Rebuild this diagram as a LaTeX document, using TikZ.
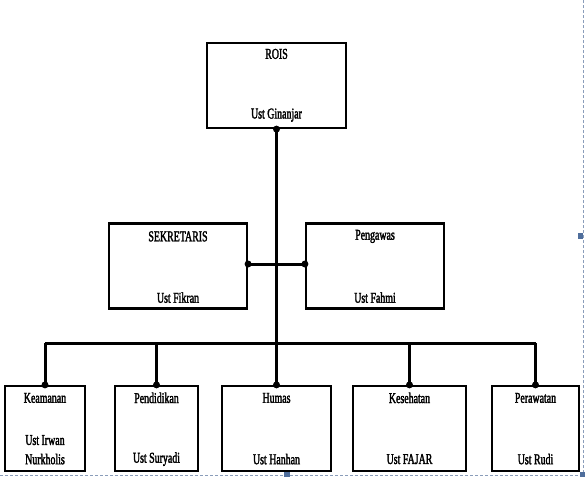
\documentclass[tikz,border=0pt]{standalone}
\usepackage{fontspec}
\setmainfont{Liberation Serif}[FakeStretch=0.66, FakeBold=2]
\usepackage{tikz}

\definecolor{framegray}{HTML}{8A9DBA}
\definecolor{handleblue}{HTML}{4F6E9C}

\tikzset{
    box/.style={draw, line width=2.2pt, minimum height=85pt, inner sep=0pt},
    title/.style={font=\fontsize{15}{16}\selectfont, inner sep=0pt},
    link/.style={line width=3pt},
    dot/.style={fill=black}
}

\begin{document}
\begin{tikzpicture}[x=1pt, y=-1pt]
    \useasboundingbox (0,0) rectangle (585,479);

    % kotak-kotak
    \node[box, minimum width=139pt] (rois) at (276.5,85.5) {};
    \node[box, minimum width=138pt] (sek) at (178,266) {};
    \node[box, minimum width=138pt] (peng) at (375,266) {};
    \node[box, minimum width=80pt] (keam) at (45,428.5) {};
    \node[box, minimum width=83pt] (pend) at (156.5,428.5) {};
    \node[box, minimum width=109pt] (humas) at (276.5,428.5) {};
    \node[box, minimum width=113pt] (kes) at (409.5,428.5) {};
    \node[box, minimum width=87pt] (peraw) at (535.5,428.5) {};

    % tulisan
    \node[title] (roist) at ([yshift=-12pt]rois.north) {ROIS};
    \node[title] (roisn) at ([yshift=14pt]rois.south) {Ust Ginanjar};
    \node[title] (sekt) at ([yshift=-14pt]sek.north) {SEKRETARIS};
    \node[title] (sekn) at ([yshift=12pt]sek.south) {Ust Fikran};
    \node[title] (pengt) at ([yshift=-14pt]peng.north) {Pengawas};
    \node[title] (pengn) at ([yshift=12pt]peng.south) {Ust Fahmi};
    \node[title] (keamt) at ([yshift=-13pt]keam.north) {Keamanan};
    \node[title] (keamm) at ([yshift=32pt]keam.south) {Ust Irwan};
    \node[title] (keamn) at ([yshift=13pt]keam.south) {Nurkholis};
    \node[title] (pendt) at ([yshift=-13pt]pend.north) {Pendidikan};
    \node[title] (pendn) at ([yshift=13pt]pend.south) {Ust Suryadi};
    \node[title] (humast) at ([yshift=-13pt]humas.north) {Humas};
    \node[title] (humasn) at ([yshift=13pt]humas.south) {Ust Hanhan};
    \node[title] (kest) at ([yshift=-13pt]kes.north) {Kesehatan};
    \node[title] (kesn) at ([yshift=13pt]kes.south) {Ust FAJAR};
    \node[title] (perawt) at ([yshift=-13pt]peraw.north) {Perawatan};
    \node[title] (perawn) at ([yshift=13pt]peraw.south) {Ust Rudi};

    % garis
    \coordinate (bus) at (276,343);
    \draw[link, line width=3.8pt] (rois.south) -- (humas.north);
    \draw[link] ([yshift=2pt]sek.east) -- ([yshift=2pt]peng.west);
    \draw[link] (keam.north |- bus) -- (peraw.north |- bus);
    \foreach \b in {keam,pend,kes,peraw}
        \draw[link] (\b.north |- bus) -- (\b.north);

    \foreach \p in {rois.south,keam.north,pend.north,humas.north,kes.north,peraw.north}
        \fill[dot] (\p) circle (3.5pt);
    \fill[dot] ([yshift=2pt]sek.east) circle (3.5pt);
    \fill[dot] ([yshift=2pt]peng.west) circle (3.5pt);

    % bingkai
    \coordinate (fc) at (583,475);
    \draw[framegray, dash pattern=on 3pt off 2pt, line width=0.8pt] (0,475) -- (fc) -- (583,0);
    \fill[handleblue] (578,233) rectangle (583,239);
    \fill[handleblue] (284,472) rectangle (290,477);
    \fill[handleblue] (580,472) rectangle (585,477);
\end{tikzpicture}
\end{document}
